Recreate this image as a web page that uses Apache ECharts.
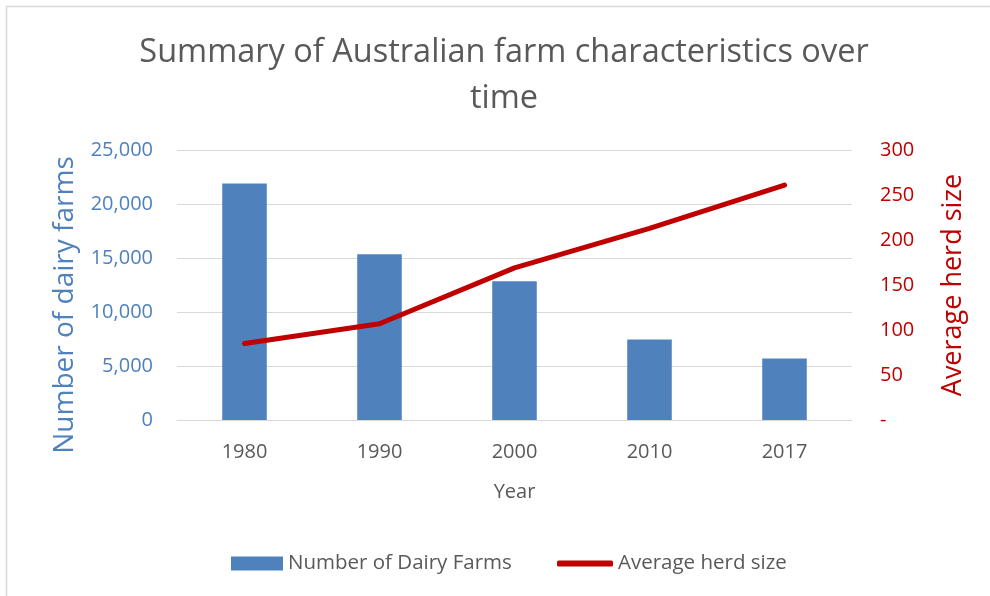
<!DOCTYPE html>
<html>
<head>
<meta charset="utf-8">
<title>Summary of Australian farm characteristics over time</title>
<script src="https://cdn.jsdelivr.net/npm/echarts@6/dist/echarts.min.js"></script>
<style>
  html, body { margin: 0; padding: 0; background: #ffffff; }
  #chart { width: 990px; height: 596px; }
</style>
</head>
<body>
<div id="chart"></div>
<script>
// Census years shown on the horizontal axis
const years = ['1980', '1990', '2000', '2010', '2017'];
// Number of dairy farms (left axis)
const dairyFarms = [21900, 15350, 12850, 7450, 5700];
// Average herd size, cows per farm (right axis)
const herdSize = [85, 107, 169, 213, 261];

const BLUE = '#4f81bd';
const RED = '#c00000';
const GREY = '#595959';
const FONT = 'Open Sans';

const chart = echarts.init(document.getElementById('chart'), null, { renderer: 'canvas' });

chart.setOption({
  backgroundColor: '#ffffff',
  textStyle: { fontFamily: FONT },
  animation: false,
  // chart-area frame; only its top and left edges fall inside the canvas
  graphic: [{
    type: 'rect',
    shape: { x: 6.5, y: 6.5, width: 1000, height: 600 },
    style: { fill: 'none', stroke: '#d9d9d9', lineWidth: 1.5 },
    silent: true
  }],
  title: {
    text: 'Summary of Australian farm characteristics over\ntime',
    left: 499,
    textAlign: 'center',
    top: 25,
    textStyle: { fontFamily: FONT, fontSize: 32.5, fontWeight: 'normal', color: GREY, lineHeight: 46 }
  },
  legend: [{
    data: ['Number of Dairy Farms'],
    left: 226, top: 548,
    icon: 'rect', itemWidth: 52, itemHeight: 14,
    textStyle: { fontFamily: FONT, fontSize: 20.5, color: GREY }
  }, {
    data: ['Average herd size'],
    left: 552, top: 548,
    icon: 'roundRect', itemWidth: 56, itemHeight: 6,
    textStyle: { fontFamily: FONT, fontSize: 20.5, color: GREY }
  }],
  grid: { left: 177, right: 138, top: 150, bottom: 176 },
  xAxis: {
    type: 'category',
    data: years,
    name: 'Year',
    nameLocation: 'middle',
    nameGap: 62,
    nameTextStyle: { fontFamily: FONT, fontSize: 20, color: GREY },
    axisLine: { lineStyle: { color: '#d9d9d9', width: 1 } },
    axisTick: { show: false },
    axisLabel: { fontFamily: FONT, fontSize: 20, color: GREY, margin: 22 }
  },
  yAxis: [{
    type: 'value',
    min: 0, max: 25000, interval: 5000,
    name: 'Number of dairy farms',
    nameLocation: 'middle',
    nameGap: 98,
    nameTextStyle: { fontFamily: FONT, fontSize: 28, color: BLUE, padding: [0, 40, 0, 0] },
    axisLine: { show: false },
    axisTick: { show: false },
    splitLine: { lineStyle: { color: '#d9d9d9', width: 1 } },
    axisLabel: {
      fontFamily: FONT, fontSize: 20, color: BLUE, margin: 24,
      formatter: v => v.toLocaleString('en-US')
    }
  }, {
    type: 'value',
    min: 0, max: 300, interval: 50,
    name: 'Average herd size',
    nameLocation: 'middle',
    nameGap: 88,
    nameRotate: 90,
    nameTextStyle: { fontFamily: FONT, fontSize: 27, color: RED },
    axisLine: { show: false },
    axisTick: { show: false },
    splitLine: { show: false },
    axisLabel: {
      fontFamily: FONT, fontSize: 20, color: RED, margin: 28,
      formatter: v => (v === 0 ? '-' : String(v))
    }
  }],
  series: [{
    name: 'Number of Dairy Farms',
    type: 'bar',
    data: dairyFarms,
    yAxisIndex: 0,
    barWidth: '33%',
    itemStyle: { color: BLUE }
  }, {
    name: 'Average herd size',
    type: 'line',
    data: herdSize,
    yAxisIndex: 1,
    symbol: 'none',
    lineStyle: { color: RED, width: 5, cap: 'round', join: 'round' },
    itemStyle: { color: RED }
  }]
});
</script>
</body>
</html>
